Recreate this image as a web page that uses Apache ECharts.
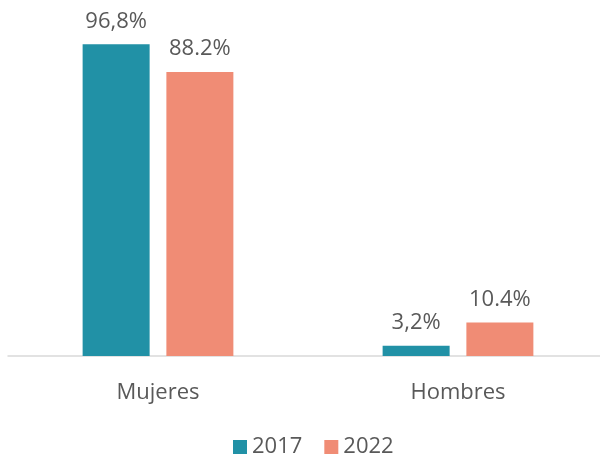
<!DOCTYPE html>
<html>
<head>
<meta charset="utf-8">
<script src="https://cdn.jsdelivr.net/npm/echarts@6/dist/echarts.min.js"></script>
<style>
  html, body { margin: 0; padding: 0; background: #fff; }
</style>
</head>
<body>
<div id="chart" style="width: 600px; height: 460px"></div>
<script>
// categorias y valores (%)
const categories = ["Mujeres", "Hombres"];
const seriesNames = ["2017", "2022"];
const values2017 = [96.8, 3.2];
const values2022 = [88.2, 10.4];
// etiquetas tal como aparecen en el grafico original
const labels2017 = ["96,8%", "3,2%"];
const labels2022 = ["88.2%", "10.4%"];

const font = "'Open Sans', 'Segoe UI', sans-serif";
var myChart = echarts.init(document.getElementById("chart"));
let option = {
  animation: false,
  textStyle: { fontFamily: font },
  grid: { left: 8, width: 600, top: 34, bottom: 104, outerBoundsMode: "none", containLabel: false },
  legend: {
    data: seriesNames,
    bottom: -3,
    left: 228,
    itemWidth: 14,
    itemHeight: 14,
    itemGap: 22,
    icon: "rect",
    textStyle: { fontSize: 22, color: "#595959", fontFamily: font },
  },
  xAxis: {
    type: "category",
    data: categories,
    axisLine: { lineStyle: { color: "#d9d9d9", width: 1.5 } },
    axisTick: { show: false },
    axisLabel: { fontSize: 22, color: "#595959", margin: 26, fontFamily: font },
  },
  yAxis: {
    type: "value",
    min: 0,
    max: 100,
    show: false,
    splitLine: { show: false },
  },
  series: [
    {
      name: seriesNames[0],
      type: "bar",
      barWidth: 67,
      barGap: "25%",
      data: values2017,
      itemStyle: { color: "#2191a6" },
      label: {
        show: true,
        position: "top",
        distance: 12,
        fontSize: 22,
        color: "#595959",
        fontFamily: font,
        formatter: (p) => labels2017[p.dataIndex],
      },
    },
    {
      name: seriesNames[1],
      type: "bar",
      barWidth: 67,
      data: values2022,
      itemStyle: { color: "#f08c75" },
      label: {
        show: true,
        position: "top",
        distance: 12,
        fontSize: 22,
        color: "#595959",
        fontFamily: font,
        formatter: (p) => labels2022[p.dataIndex],
      },
    },
  ],
};
myChart.setOption(option);
</script>
</body>
</html>
